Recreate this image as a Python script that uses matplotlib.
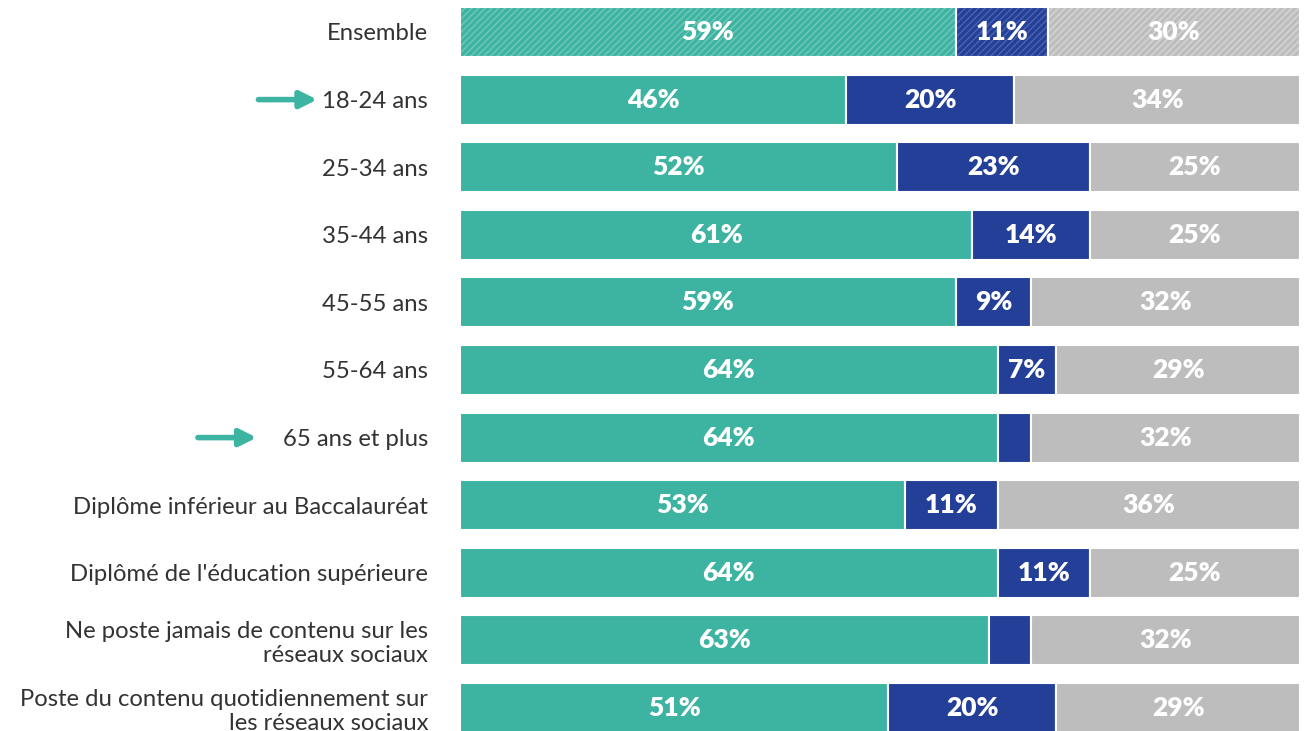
import matplotlib
matplotlib.use('Agg')
import matplotlib.pyplot as plt

plt.rcParams['font.family'] = ['Lato', 'DejaVu Sans']
plt.rcParams['hatch.linewidth'] = 1.1

CATEGORIES = [
    'Ensemble',
    '18-24 ans',
    '25-34 ans',
    '35-44 ans',
    '45-55 ans',
    '55-64 ans',
    '65 ans et plus',
    'Diplôme inférieur au Baccalauréat',
    "Diplômé de l'éducation supérieure",
    'Ne poste jamais de contenu sur les\nréseaux sociaux',
    'Poste du contenu quotidiennement sur\nles réseaux sociaux',
]
TEAL_VALUES = [59, 46, 52, 61, 59, 64, 64, 53, 64, 63, 51]
BLUE_VALUES = [11, 20, 23, 14, 9, 7, 4, 11, 11, 5, 20]
GRAY_VALUES = [30, 34, 25, 25, 32, 29, 32, 36, 25, 32, 29]
ARROW_ROWS = [1, 6]

COLORS = ['#3db3a1', '#233f97', '#bdbdbd']
HATCH_COLORS = ['#6fc7b8', '#4a62ae', '#d4d4d4']

fig = plt.figure(figsize=(13.04, 7.31), dpi=100)
ax = fig.add_axes([460 / 1304, 0, 840 / 1304, 1])

rows = list(range(len(CATEGORIES)))
series = [TEAL_VALUES, BLUE_VALUES, GRAY_VALUES]
lefts = [0] * len(rows)
for values, color, hcolor in zip(series, COLORS, HATCH_COLORS):
    # first row (Ensemble) is hatched
    ax.barh(rows[0], values[0], left=lefts[0], height=0.74,
            color=color, edgecolor=hcolor, linewidth=0, hatch='/////')
    ax.barh(rows[0], values[0], left=lefts[0], height=0.74,
            fill=False, edgecolor='white', linewidth=1.5)
    ax.barh(rows[1:], values[1:], left=lefts[1:], height=0.74,
            color=color, edgecolor='white', linewidth=1.5)
    for r in rows:
        v = values[r]
        if v >= 7:
            ax.text(lefts[r] + v / 2, r, f'{v}%', ha='center', va='center',
                    color='white', fontsize=19, fontweight='heavy')
    lefts = [a + b for a, b in zip(lefts, values)]

ax.set_xlim(0, 100)
ax.set_ylim(10 + 23 / 67.6, -32 / 67.6)
ax.set_yticks(rows)
ax.set_yticklabels(CATEGORIES, fontsize=17.2, color='#333333',
                   linespacing=1.15)
ax.tick_params(axis='y', length=0, pad=23)
ax.tick_params(axis='x', bottom=False, labelbottom=False)
for s in ax.spines.values():
    s.set_visible(False)

# arrows pointing at highlighted rows
arrow_x = {1: (-24.0, -17.0), 6: (-31.2, -24.2)}
for r in ARROW_ROWS:
    x0, x1 = arrow_x[r]
    ax.annotate('', xy=(x1, r), xytext=(x0, r), annotation_clip=False,
                arrowprops=dict(arrowstyle='-|>,head_length=1.0,head_width=0.5',
                                color='#3db3a1', lw=4, shrinkA=0, shrinkB=0))

fig.savefig('out.png', dpi=100)
